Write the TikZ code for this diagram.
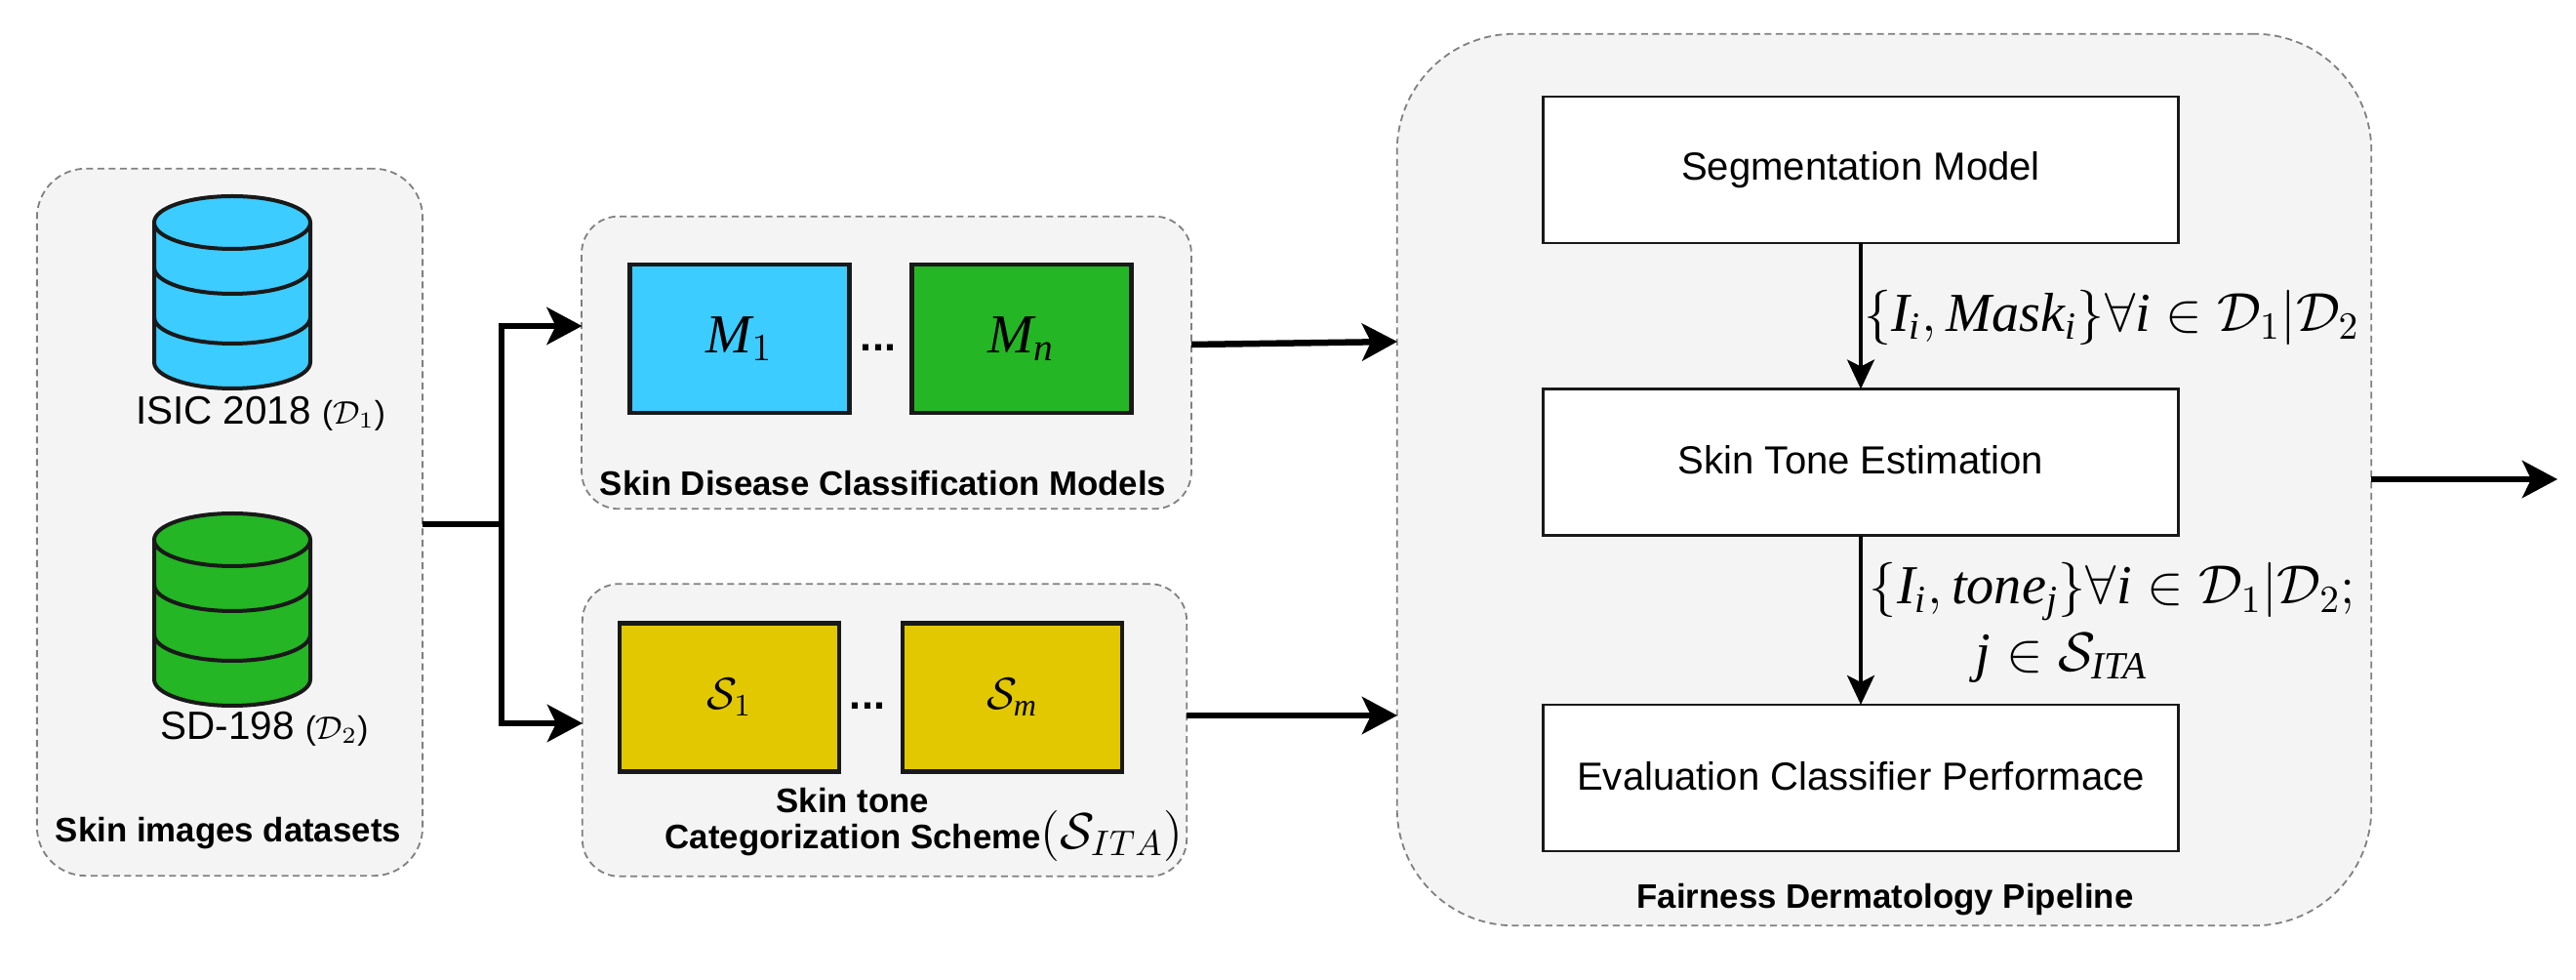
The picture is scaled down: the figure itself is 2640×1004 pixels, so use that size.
\documentclass[tikz,border=0pt]{standalone}
\usepackage{fix-cm}
\usepackage{fontspec}
\usepackage{amsmath}
\setmainfont{Liberation Sans}
\newfontfamily\timesfont{Liberation Serif}
\usetikzlibrary{arrows.meta}
\definecolor{panelgray}{RGB}{244,244,244}
\definecolor{dbblue}{RGB}{60,204,255}
\definecolor{dbgreen}{RGB}{36,182,36}
\definecolor{tonegold}{RGB}{226,200,0}
\newcommand{\tv}[1]{\text{\timesfont\itshape #1}}
\tikzset{
  panel/.style={draw=gray, dashed, line width=0.018cm, dash pattern=on 0.07cm off 0.045cm, fill=panelgray, inner sep=0pt, outer sep=0pt},
  tilebox/.style={draw=black!90, line width=0.045cm, minimum width=2.25cm, minimum height=1.52cm, inner sep=0pt, outer sep=0pt, font=\fontsize{16}{18}\selectfont},
  tonebox/.style={tilebox, fill=tonegold, font=\fontsize{13}{16}\selectfont},
  stepbox/.style={draw=black!90, fill=white, line width=0.028cm, minimum width=6.5cm, minimum height=1.5cm, inner sep=0pt, outer sep=0pt, font=\fontsize{11.4}{14}\selectfont},
  paneltitle/.style={inner sep=0pt, font=\fontsize{9.9}{12}\selectfont\bfseries},
  dbtext/.style={inner sep=0pt, font=\fontsize{11.5}{13}\selectfont},
  dotrow/.style={inner sep=0pt, font=\fontsize{12.3}{14}\selectfont\bfseries},
  mathtext/.style={inner sep=0pt, font=\fontsize{16}{18}\selectfont},
  flow/.style={line width=0.065cm, -{Stealth[length=0.36cm, width=0.38cm, inset=0.09cm]}},
  thinflow/.style={line width=0.032cm, -{Stealth[length=0.3cm, width=0.28cm, inset=0.07cm]}},
  dbline/.style={draw=black!90, line width=0.04cm}
}
% one stack of discs: x, top y, colour
\newcommand{\dbstack}[3]{
  \begin{scope}[shift={(#1,#2)}]
    \fill[#3] (-80,27) -- (-80,170) arc[start angle=180, end angle=0, x radius=80, y radius=27] -- (80,27) -- cycle;
    \foreach \yband in {73,124}
      \draw[dbline] (-80,\yband) arc[start angle=180, end angle=0, x radius=80, y radius=27];
    \draw[dbline] (-80,27) -- (-80,170) arc[start angle=180, end angle=0, x radius=80, y radius=27] -- (80,27);
    \filldraw[dbline, fill=#3] (0,27) ellipse[x radius=80, y radius=27];
  \end{scope}
}
\begin{document}
\begin{tikzpicture}[x=0.01cm,y=-0.01cm]
  \useasboundingbox (0,0) rectangle (2640,1004);

  % panels
  \node[panel, rounded corners=0.5cm, minimum width=3.95cm, minimum height=7.24cm] (imagepanel) at (235.5,535) {};
  \node[panel, rounded corners=0.38cm, minimum width=6.245cm, minimum height=2.995cm] (modelpanel) at (908.5,371.5) {};
  \node[panel, rounded corners=0.38cm, minimum width=6.19cm, minimum height=2.995cm] (tonepanel) at (906.5,748) {};
  \node[panel, rounded corners=1.2cm, minimum width=9.98cm, minimum height=9.13cm] (fairpanel) at (1931,491.5) {};

  % datasets
  \dbstack{238}{201}{dbblue}
  \dbstack{238}{526}{dbgreen}
  \node[dbtext] (isictext) at (267,424) {ISIC 2018 {\fontsize{9.5}{11}\selectfont($\mathcal{D}_1$)}};
  \node[dbtext] (sdtext) at (271,747) {SD-198 {\fontsize{9.5}{11}\selectfont($\mathcal{D}_2$)}};
  \node[paneltitle] (imagetitle) at (234,854) {Skin images datasets};

  % models
  \node[tilebox, fill=dbblue] (firstmodel) at (758,347) {$\tv{M}_1$};
  \node[tilebox, fill=dbgreen] (lastmodel) at (1047,347) {$\tv{M}_{\tv{n}}$};
  \node[dotrow] (modeldots) at (900,356) {...};
  \node[paneltitle] (modeltitle) at (905,495) {Skin Disease Classification Models};

  % tones
  \node[tonebox] (firsttone) at (747.5,714.5) {\raisebox{0.05cm}{$\mathcal{S}_1$}};
  \node[tonebox] (lasttone) at (1037.5,714.5) {\raisebox{0.05cm}{$\mathcal{S}_{\tv{m}}$}};
  \node[dotrow] (tonedots) at (889,723) {...};
  \node[paneltitle] (tonetitle) at (874,820) {Skin tone};
  \node[paneltitle] (schemetitle) at (947,856) {Categorization Scheme{\mdseries\fontsize{14.8}{16}\selectfont$(\mathcal{S}_{ITA})$}};

  % pipeline
  \node[stepbox] (segbox) at (1907,174) {\raisebox{0.06cm}{Segmentation Model}};
  \node[stepbox] (estbox) at (1907,473.5) {\raisebox{0.06cm}{Skin Tone Estimation}};
  \node[stepbox] (evalbox) at (1907,797) {\raisebox{0.04cm}{Evaluation Classifier Performace}};
  \node[paneltitle] (fairtitle) at (1932,922) {Fairness Dermatology Pipeline};
  \node[mathtext] (masklabel) at (2164,325) {$\{\tv{I}_{\tv{i}},\tv{Mask}_{\tv{i}}\}\forall\tv{i}\in\mathcal{D}_1|\mathcal{D}_2$};
  \node[mathtext] (tonelabel) at (2165,606) {$\{\tv{I}_{\tv{i}},\tv{tone}_{\tv{j}}\}\forall\tv{i}\in\mathcal{D}_1|\mathcal{D}_2;$};
  \node[mathtext] (setlabel) at (2113,674) {$\tv{j}\in\mathcal{S}_{\tv{ITA}}$};

  % connectors
  \coordinate (branch) at (514,537);
  \coordinate (modelin) at (596.5,334);
  \coordinate (tonein) at (597,741);
  \coordinate (modelout) at (1221,353);
  \coordinate (fairtop) at (1432,350);
  \coordinate (toneout) at (1216,733);
  \coordinate (fairlow) at (1432,733);
  \coordinate (fairout) at (2430,491);
  \coordinate (resultend) at (2621,491);
  \draw[line width=0.065cm] (imagepanel.east |- branch) -- (branch);
  \draw[flow] (branch) |- (modelin);
  \draw[flow] (branch) |- (tonein);
  \draw[flow] (modelout) -- (fairtop);
  \draw[flow] (toneout) -- (fairlow);
  \draw[flow] (fairout) -- (resultend);
  \draw[thinflow] (segbox) -- (estbox);
  \draw[thinflow] (estbox) -- (evalbox);
\end{tikzpicture}
\end{document}
